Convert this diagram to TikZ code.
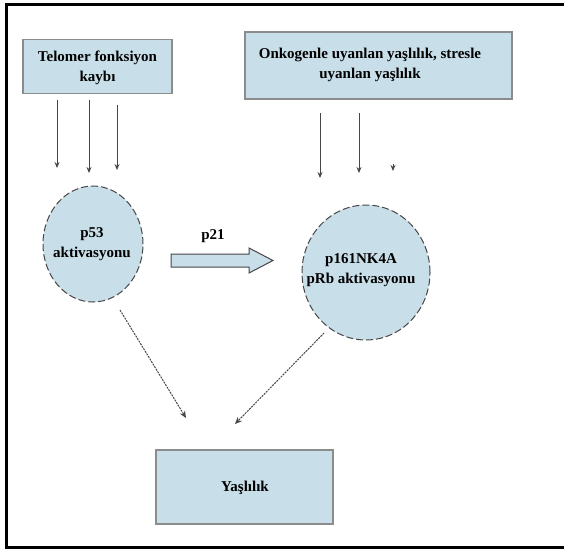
\documentclass[tikz,border=0pt]{standalone}
\usepackage{fontspec}
\setmainfont{Liberation Serif}
\usetikzlibrary{shapes.geometric,arrows.meta}
\definecolor{cellfill}{RGB}{200,222,232}
\definecolor{boxedge}{RGB}{140,140,140}
\definecolor{arrowgray}{RGB}{70,70,70}
\tikzset{
  lbl/.style={font=\fontsize{15}{20}\selectfont\bfseries, align=center, text=black},
  rectbox/.style={rectangle, fill=cellfill, draw=boxedge, line width=1.2pt, inner sep=0pt},
  cellcirc/.style={ellipse, fill=cellfill, draw=arrowgray, line width=1pt, dash pattern=on 7pt off 3pt, inner sep=0pt},
  vline/.style={draw=arrowgray, line width=0.9pt, -{Stealth[length=6pt,width=5pt]}},
  dline/.style={draw=arrowgray, line width=1pt, dash pattern=on 2pt off 1pt, -{Stealth[length=7pt,width=6pt]}},
  blockarrow/.style={fill=cellfill, draw=arrowgray, line width=1pt}
}
\begin{document}
\begin{tikzpicture}[x=1pt,y=-1pt]
\useasboundingbox (0,0) rectangle (564,549);
% frame
\draw[line width=2.5pt, black] (564,4.5) -- (6.5,4.5) -- (6.5,547.5) -- (564,547.5);
% boxes
\node[rectbox, minimum width=149pt, minimum height=54pt] (telomer) at (97.5,66.5) {};
\node[lbl] (telomertxt) at (97.5,67.5) {Telomer fonksiyon\\kaybı};
\node[rectbox, minimum width=267pt, minimum height=67pt] (onko) at (378.5,65.5) {};
\node[lbl] (onkotxt) at (370,65) {Onkogenle uyanlan yaşlılık, stresle\\uyanlan yaşlılık};
\node[rectbox, minimum width=177pt, minimum height=74pt] (yas) at (244.5,487) {};
\node[lbl] (yastxt) at (245,488) {Yaşlılık};
% circles
\node[cellcirc, minimum width=100pt, minimum height=116pt] (p53) at (93,244) {};
\node[lbl] (p53txt) at (92,244) {p53\\aktivasyonu};
\node[cellcirc, minimum width=128pt, minimum height=135pt] (p16) at (366,272.5) {};
\node[lbl] (p16txt) at (361,270) {p161NK4A\\pRb aktivasyonu};
% p21 block arrow
\draw[blockarrow] (171,254) -- (249,254) -- (249,248) -- (273,260.5) -- (249,273) -- (249,267) -- (171,267) -- cycle;
\node[lbl] (p21) at (213,236) {p21};
% vertical arrows from telomer box
\coordinate (t1s) at (57,100); \coordinate (t1e) at (57,168);
\coordinate (t2s) at (89,100); \coordinate (t2e) at (89,173);
\coordinate (t3s) at (117,105); \coordinate (t3e) at (117,170);
\draw[vline] (t1s) -- (t1e);
\draw[vline] (t2s) -- (t2e);
\draw[vline] (t3s) -- (t3e);
% vertical arrows from onko box
\coordinate (o1s) at (320,113); \coordinate (o1e) at (320,178);
\coordinate (o2s) at (359,113); \coordinate (o2e) at (359,173);
\coordinate (o3s) at (393,164); \coordinate (o3e) at (393,171);
\draw[vline] (o1s) -- (o1e);
\draw[vline] (o2s) -- (o2e);
\draw[vline] (o3s) -- (o3e);
% diagonal arrows
\coordinate (d1s) at (120,310); \coordinate (d1e) at (186,418);
\coordinate (d2s) at (324,333); \coordinate (d2e) at (235,424);
\draw[dline] (d1s) -- (d1e);
\draw[dline] (d2s) -- (d2e);
\end{tikzpicture}
\end{document}
